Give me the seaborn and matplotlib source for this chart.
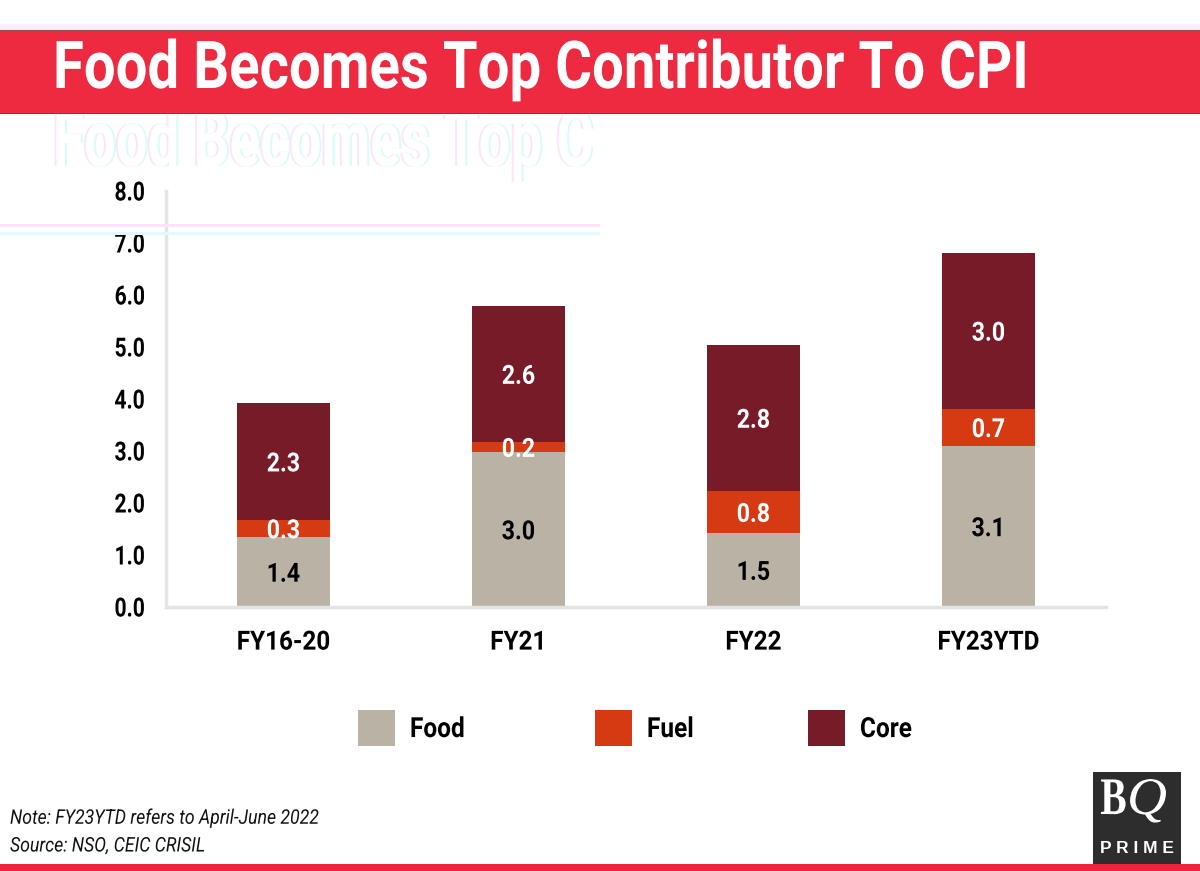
import matplotlib
matplotlib.use('Agg')
import matplotlib.pyplot as plt
import matplotlib.patheffects as pe
from matplotlib.patches import Rectangle
from matplotlib.transforms import Affine2D, Bbox
import pandas as pd
import seaborn as sns

# data
categories = ['FY16-20', 'FY21', 'FY22', 'FY23YTD']
food = [1.35, 2.98, 1.42, 3.10]
fuel = [0.32, 0.19, 0.81, 0.71]
core = [2.25, 2.62, 2.81, 3.00]
food_labels = ['1.4', '3.0', '1.5', '3.1']
fuel_labels = ['0.3', '0.2', '0.8', '0.7']
core_labels = ['2.3', '2.6', '2.8', '3.0']
y_ticks = [0, 1, 2, 3, 4, 5, 6, 7, 8]

W, H = 1200, 871

sns.set_theme(style='white')
plt.rcParams['font.family'] = ['Roboto', 'DejaVu Sans']
plt.rcParams['text.color'] = 'black'


class Squeeze(pe.AbstractPathEffect):
    # no condensed font is installed, so squeeze the glyphs when they are drawn
    def __init__(self, sx=1.0, sy=1.0, anchor=0.0):
        super().__init__()
        self.sx, self.sy, self.anchor = sx, sy, anchor

    def squeezed(self, tpath, affine):
        ref = tpath.get_extents().x1 * self.anchor
        return Affine2D().translate(-ref, 0).scale(self.sx, self.sy).translate(ref, 0) + affine

    def draw_path(self, renderer, gc, tpath, affine, rgbFace=None):
        renderer.draw_path(gc, tpath, self.squeezed(tpath, affine), rgbFace)


class Fringe(Squeeze):
    # pale pink and cyan edges around white letters, as in the smeared title copy
    def draw_path(self, renderer, gc, tpath, affine, rgbFace=None):
        base = self.squeezed(tpath, affine)
        for dx, color in [(-2, (0.98, 0.90, 0.98)), (2, (0.86, 0.98, 0.98)), (0, (1, 1, 1))]:
            renderer.draw_path(gc, tpath, base + Affine2D().translate(dx, 0), color)


df = pd.DataFrame({'cat': categories, 'food': food, 'fuel': fuel, 'core': core})
df['fuel_base'] = df['food']
df['core_base'] = df['food'] + df['fuel']

fig = plt.figure(figsize=(12, 8.71), dpi=100, facecolor='white')
ax = fig.add_axes([166 / W, 1 - 607 / H, 940 / W, 416 / H])


def band(x0, y0, x1, y1, color):
    # rectangle given in picture pixels
    fig.add_artist(Rectangle((x0 / W, 1 - y1 / H), (x1 - x0) / W, (y1 - y0) / H,
                             transform=fig.transFigure, color=color, lw=0))


band(0, 24, W, 30, '#fdeefb')
band(0, 30, W, 113, '#ee2a40')
band(0, 30, W, 31, '#8a5a3c')
band(0, 113, W, 114, '#8a3a3c')
band(0, 224, 600, 227, '#fbe3fb')
band(0, 232, 600, 235, '#dffbfb')
band(0, 864, W, 871, '#ef2340')

# the smeared copy of the title under the red band
ghost = fig.text(53 / W, 1 - 166 / H, 'Food Becomes Top C', color='white', fontsize=47.5,
                 fontweight='bold', va='baseline', ha='left')
ghost.set_path_effects([Fringe(sx=0.855, sy=1.2)])
ghost.set_clip_box(Bbox([[0, H - 210], [600, H - 115]]))
ghost.set_clip_on(True)

sns.barplot(data=df, x='cat', y='food', color='#bab3a5', saturation=1, width=0.395,
            linewidth=0, label='Food', ax=ax)
sns.barplot(data=df, x='cat', y='fuel', bottom=df['fuel_base'], color='#d53a13', saturation=1,
            width=0.395, linewidth=0, label='Fuel', ax=ax)
sns.barplot(data=df, x='cat', y='core', bottom=df['core_base'], color='#761b27', saturation=1,
            width=0.395, linewidth=0, label='Core', ax=ax)
ax.patch.set_alpha(0)

label_sets = [(food_labels, 'black'), (fuel_labels, 'white'), (core_labels, 'white')]
for container, (labels, color) in zip(ax.containers, label_sets):
    for txt in ax.bar_label(container, labels=labels, label_type='center', color=color,
                            fontsize=19, fontweight='bold', padding=-2):
        txt.set_path_effects([Squeeze(sx=0.88, anchor=0.5)])

ax.set_xlim(-0.5, 3.5)
ax.set_ylim(0, 8)
ax.set_yticks(y_ticks)
ax.set_yticklabels([f'{v:.1f}' for v in y_ticks])
ax.set_xlabel('')
ax.set_ylabel('')
ax.tick_params(axis='both', length=0, labelcolor='black')
ax.tick_params(axis='y', pad=15)
ax.tick_params(axis='x', pad=17)
for lab in ax.get_xticklabels():
    lab.set_fontsize(19)
    lab.set_fontweight('bold')
    lab.set_path_effects([Squeeze(sx=0.92, anchor=0.5)])
for lab in ax.get_yticklabels():
    lab.set_fontsize(19)
    lab.set_fontweight('bold')
    lab.set_path_effects([Squeeze(sx=0.8, anchor=1.0)])
sns.despine(ax=ax)
for side in ['left', 'bottom']:
    ax.spines[side].set_color('#e4e4e4')
    ax.spines[side].set_linewidth(2.5)

handles, names = ax.get_legend_handles_labels()
ax.get_legend().remove()
for handle, name, left in zip(handles, names, [358, 595, 808]):
    leg = fig.legend([handle], [name], frameon=False, loc='center left',
                     bbox_to_anchor=(left / W, 1 - 728 / H), borderpad=0, borderaxespad=0,
                     prop={'size': 20, 'weight': 'bold'}, labelcolor='black',
                     handlelength=1.33, handleheight=1.65, handletextpad=0.54)
    leg.get_texts()[0].set_path_effects([Squeeze(sx=0.88)])

title = fig.text(53 / W, 1 - 70 / H, 'Food Becomes Top Contributor To CPI', color='white',
                 fontsize=47.5, fontweight='bold', va='center', ha='left')
title.set_path_effects([Squeeze(sx=0.853)])

for y, note in [(818, 'Note: FY23YTD refers to April-June 2022'), (846, 'Source: NSO, CEIC CRISIL')]:
    t = fig.text(10 / W, 1 - y / H, note, fontsize=14.5, style='italic', va='center', color='#111111')
    t.set_path_effects([Squeeze(sx=0.877)])

# logo
band(1093, 772, 1181, 864, '#2d2d2d')
b = fig.text(1127 / W, 1 - 801 / H, 'B', color='white', fontsize=38, family='Liberation Serif',
             fontweight='bold', ha='right', va='center')
b.set_path_effects([Squeeze(sx=0.75, anchor=1.0)])
q = fig.text(1127 / W, 1 - 801 / H, 'Q', color='white', fontsize=38, family='Liberation Serif',
             style='italic', ha='left', va='center')
q.set_path_effects([Squeeze(sx=1.05)])
fig.text(1137 / W, 1 - 848 / H, 'P R I M E', color='white', fontsize=12.5, family='Liberation Sans',
         fontweight='bold', ha='center', va='center')

fig.savefig('out.png', dpi=100, facecolor='white')
